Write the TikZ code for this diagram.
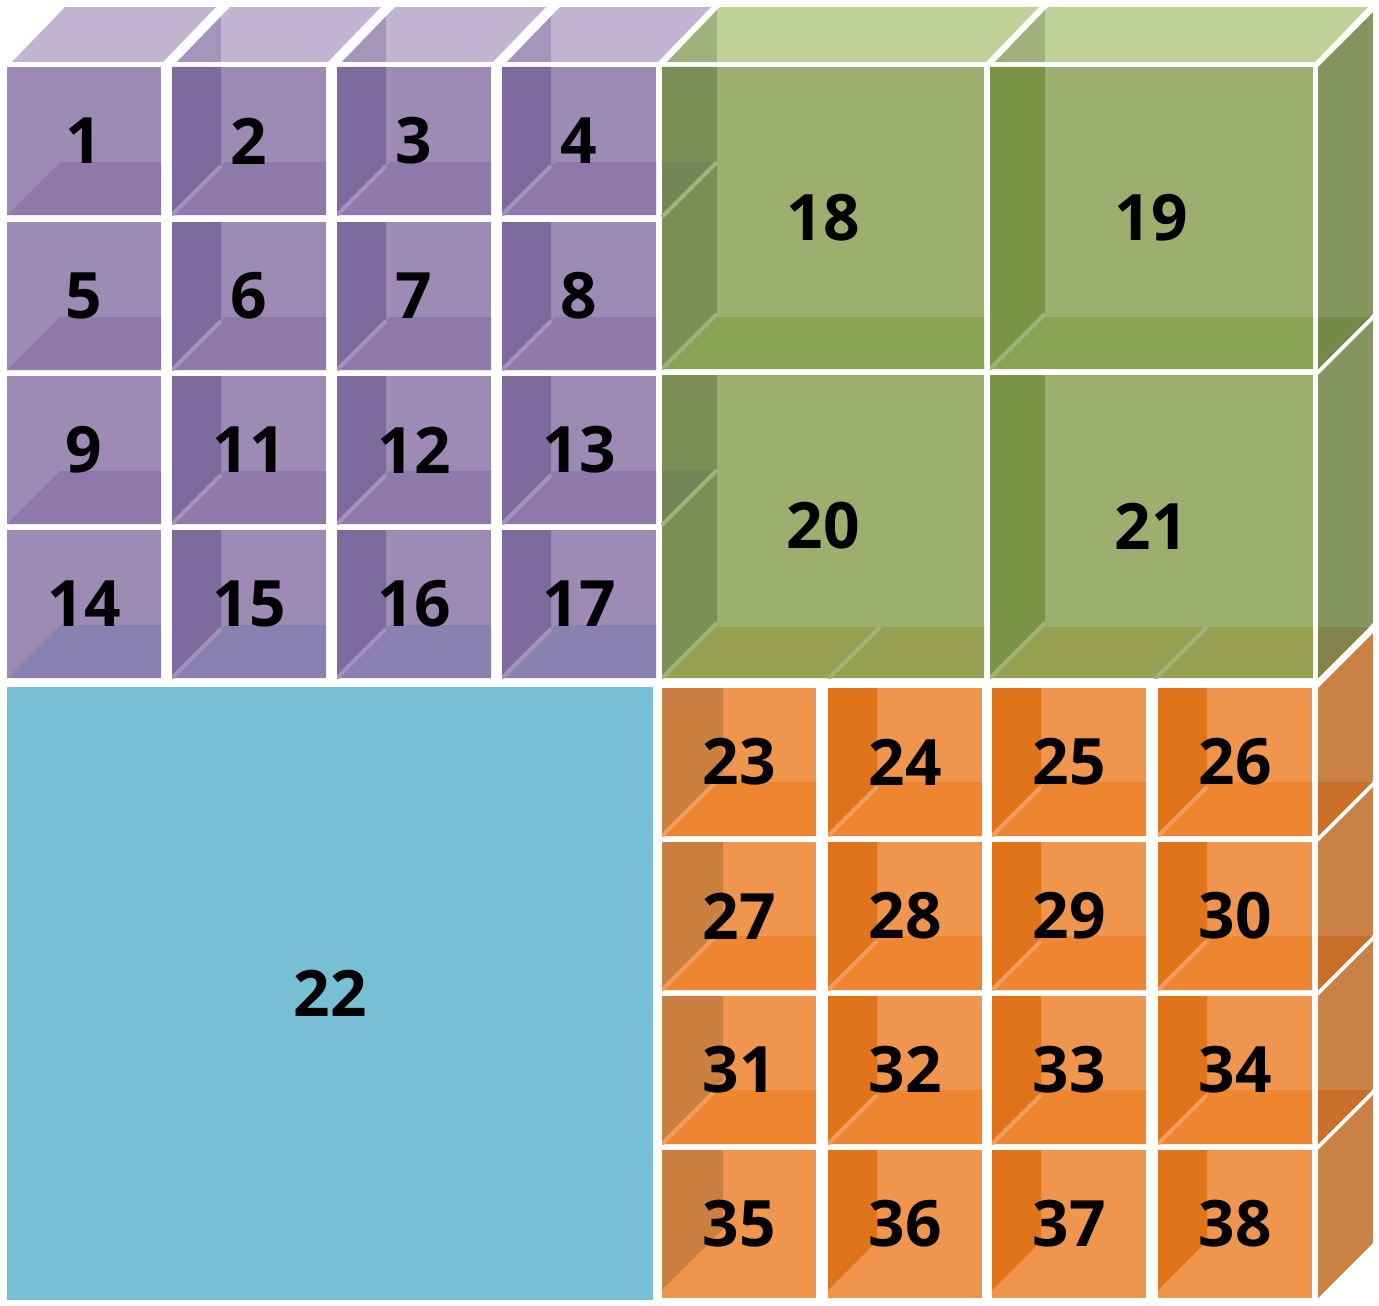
\documentclass[tikz,border=0pt]{standalone}
\usepackage{fontspec}
\setmainfont{Open Sans}
\definecolor{pFront}{HTML}{9E8BB5}
\definecolor{pWall}{HTML}{7F6A9E}
\definecolor{pFloor}{HTML}{8E79AA}
\definecolor{pFloorB}{HTML}{8A80B1}
\definecolor{pTop}{HTML}{C3B5D2}
\definecolor{pTopD}{HTML}{A595BB}
\definecolor{pStripe}{HTML}{A292BD}
\definecolor{gFront}{HTML}{9CAF6F}
\definecolor{gWallA}{HTML}{7B8E56}
\definecolor{gWallB}{HTML}{7A9447}
\definecolor{gFloor}{HTML}{8AA456}
\definecolor{gFloorB}{HTML}{98A052}
\definecolor{gTop}{HTML}{BFD197}
\definecolor{gTopD}{HTML}{A0B27B}
\definecolor{gRight}{HTML}{85955F}
\definecolor{gRightDa}{HTML}{748A48}
\definecolor{gRightDb}{HTML}{84844A}
\definecolor{gStripe}{HTML}{9EB477}
\definecolor{gBand}{HTML}{748656}
\definecolor{oFront}{HTML}{F0954D}
\definecolor{oWall}{HTML}{E0741A}
\definecolor{oWallB}{HTML}{C98040}
\definecolor{oFloor}{HTML}{EE8530}
\definecolor{oRight}{HTML}{CA8145}
\definecolor{oRightD}{HTML}{C8702A}
\definecolor{oStripe}{HTML}{F29D5E}
\definecolor{blueC}{HTML}{77BFD5}
% front face of a cell: x0,y0,x1,y1,front,wallw,wallcolor,floorh,floorcolor
\newcommand\cellfront[9]{%
  \begin{scope}
    \clip (#1,#2) rectangle (#3,#4);
    \fill[#5] (#1,#2) rectangle (#3,#4);
    \ifnum#8>0\relax
      \fill[#9] (#1,#4) -- ({#1+#8},{#4-#8}) -- (#3,{#4-#8}) -- (#3,#4) -- cycle;
      \ifnum#6>0\relax
        \fill[#7] (#1,#2) -- ({#1+#6},#2) -- ({#1+#6},{#4-#6}) -- (#1,#4) -- cycle;
        \draw[\stripecol, line width=4pt] (#1,#4) -- ({#1+#6},{#4-#6});
      \fi
    \else
      \ifnum#6>0\relax
        \fill[#7] (#1,#2) -- ({#1+#6},#2) -- ({#1+#6},{#4-#6-8}) -- (#1,{#4-8}) -- cycle;
      \fi
    \fi
  \end{scope}}
% top face: x0,x1,y0,color,darkcolor,darkw
\newcommand\topface[6]{%
  \begin{scope}
    \path[clip] ({#1+5},{#3-5}) -- ({#2+2},{#3-5}) -- ({#2+55},{#3-60}) -- ({#1+58},{#3-60}) -- cycle;
    \fill[#4] ({#1},{#3-60}) rectangle ({#2+60},{#3});
    \ifnum#6>0\relax
      \fill[#5] ({#1},{#3-60}) rectangle ({#1+#6},{#3});
    \fi
  \end{scope}}
% right face: x1,y0,y1,color,bandcolor,bandh
\newcommand\rightface[6]{%
  \begin{scope}
    \path[clip] ({#1+5},#2) -- ({#1+60},{#2-55}) -- ({#1+60},{#3-55}) -- ({#1+5},#3) -- cycle;
    \fill[#4] ({#1},{#2-60}) rectangle ({#1+60},{#3});
    \ifnum#6>0\relax
      \fill[#5] ({#1+5},{#3-#6}) -- ({#1+60},{#3-#6}) -- ({#1+60},{#3}) -- ({#1+5},{#3}) -- cycle;
    \fi
  \end{scope}}
\begin{document}
\begin{tikzpicture}[x=1pt,y=-1pt,
  lbl/.style={font=\fontsize{64}{64}\selectfont\bfseries, text=black, inner sep=0pt}]
\useasboundingbox (0,0) rectangle (1379,1306);
\fill[white] (0,0) rectangle (1379,1306);

% ---------- top faces ----------
\topface{7}{161}{67}{pTop}{pTopD}{0}
\topface{172}{326}{67}{pTop}{pTopD}{49}
\topface{337}{491}{67}{pTop}{pTopD}{49}
\topface{502}{656}{67}{pTop}{pTopD}{49}
\topface{662}{984}{67}{gTop}{gTopD}{55}
\topface{990}{1313}{67}{gTop}{gTopD}{55}

% ---------- right faces ----------
\rightface{1313}{67}{369}{gRight}{gRightDa}{52}
\rightface{1313}{375}{678}{gRight}{gRightDb}{51}
\rightface{1313}{688}{836}{oRight}{oRightD}{54}
\rightface{1313}{842}{990}{oRight}{oRightD}{54}
\rightface{1313}{996}{1144}{oRight}{oRightD}{54}
\rightface{1313}{1150}{1298}{oRight}{oRightD}{0}

% ---------- purple cells ----------
\def\stripecol{pStripe}
\foreach \xa/\xb/\ya/\yb/\w/\fc/\t in {
  7/161/67/215/0/pFloor/1, 172/326/67/215/49/pFloor/2, 337/491/67/215/49/pFloor/3, 502/656/67/215/49/pFloor/4,
  7/161/222/370/0/pFloor/5, 172/326/222/370/49/pFloor/6, 337/491/222/370/49/pFloor/7, 502/656/222/370/49/pFloor/8,
  7/161/376/524/0/pFloor/9, 172/326/376/524/49/pFloor/11, 337/491/376/524/49/pFloor/12, 502/656/376/524/49/pFloor/13,
  7/161/530/678/0/pFloorB/14, 172/326/530/678/49/pFloorB/15, 337/491/530/678/49/pFloorB/16, 502/656/530/678/49/pFloorB/17}
{
  \cellfront{\xa}{\ya}{\xb}{\yb}{pFront}{\w}{pWall}{53}{\fc}
  \node[lbl] (c\t) at ({(\xa+\xb)/2},{(\ya+\yb)/2}) {\t};
}

% ---------- green cells ----------
\def\stripecol{gStripe}
\cellfront{662}{67}{984}{369}{gFront}{55}{gWallA}{52}{gFloor}
\cellfront{990}{67}{1313}{369}{gFront}{55}{gWallB}{52}{gFloor}
\cellfront{662}{375}{984}{678}{gFront}{55}{gWallA}{51}{gFloorB}
\cellfront{990}{375}{1313}{678}{gFront}{55}{gWallB}{51}{gFloorB}
% sub-cube edges seen inside the green cubes
\fill[gBand] (662,162) -- (717,162) -- (662,217) -- cycle;
\draw[gStripe, line width=4pt] (662,217) -- (717,162);
\fill[gBand] (662,470) -- (717,470) -- (662,525) -- cycle;
\draw[gStripe, line width=4pt] (662,525) -- (717,470);
\begin{scope}
  \clip (662,375) rectangle (1313,678);
  \draw[gStripe, line width=4pt] (828,679) -- (880,627);
  \draw[gStripe, line width=4pt] (1155,679) -- (1207,627);
\end{scope}
\node[lbl] (c18) at (823,218) {18};
\node[lbl] (c19) at (1151,218) {19};
\node[lbl] (c20) at (823,526) {20};
\node[lbl] (c21) at (1151,526) {21};

% ---------- blue cell ----------
\fill[blueC] (7,687) rectangle (653,1300);
\node[lbl] (c22) at (330,993) {22};

% ---------- orange cells ----------
\def\stripecol{oStripe}
\foreach \xa/\xb/\ya/\yb/\w/\wc/\f/\t in {
  662/816/688/836/61/oWallB/54/23, 828/982/688/836/49/oWall/54/24, 992/1146/688/836/49/oWall/54/25, 1158/1312/688/836/49/oWall/54/26,
  662/816/842/990/61/oWallB/54/27, 828/982/842/990/49/oWall/54/28, 992/1146/842/990/49/oWall/54/29, 1158/1312/842/990/49/oWall/54/30,
  662/816/996/1144/61/oWallB/54/31, 828/982/996/1144/49/oWall/54/32, 992/1146/996/1144/49/oWall/54/33, 1158/1312/996/1144/49/oWall/54/34,
  662/816/1150/1298/61/oWallB/0/35, 828/982/1150/1298/49/oWall/0/36, 992/1146/1150/1298/49/oWall/0/37, 1158/1312/1150/1298/49/oWall/0/38}
{
  \cellfront{\xa}{\ya}{\xb}{\yb}{oFront}{\w}{\wc}{\f}{oFloor}
  \node[lbl] (c\t) at ({(\xa+\xb)/2},{(\ya+\yb)/2}) {\t};
}
\end{tikzpicture}
\end{document}
